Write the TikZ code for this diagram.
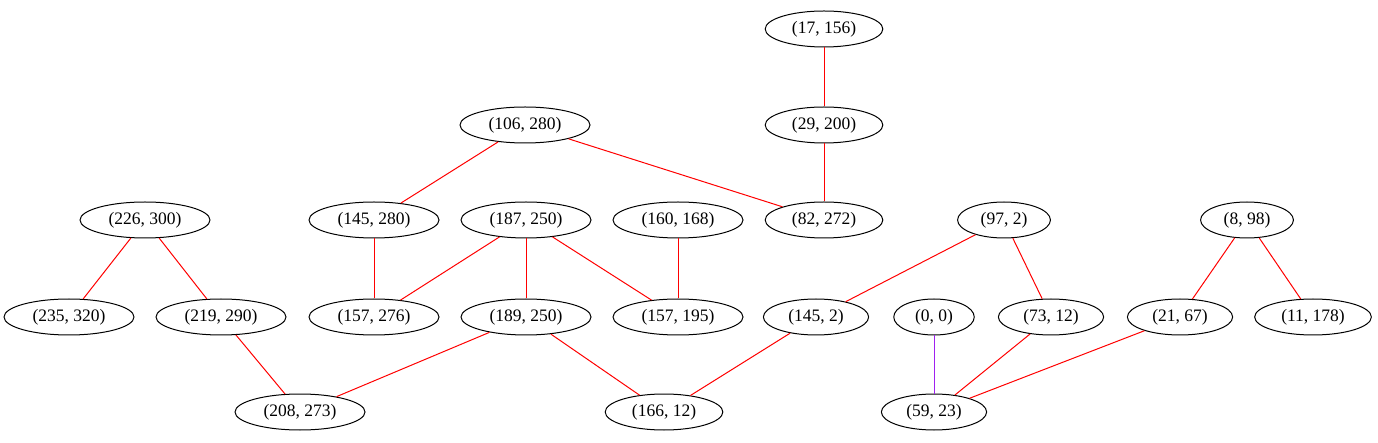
\documentclass[tikz,border=0pt]{standalone}
\usepackage{fontspec}
\setmainfont{Liberation Serif}
\usetikzlibrary{shapes.geometric}
\definecolor{gvpurple}{RGB}{160,32,240}
\begin{document}
\begin{tikzpicture}[x=1pt,y=-1pt,
  nd/.style={draw=black,ellipse,line width=1pt,inner xsep=9.5pt,inner ysep=0pt,minimum height=36pt,font=\fontsize{17.5}{20}\selectfont},
  ed/.style={draw=red,line width=1pt},
  ep/.style={draw=gvpurple,line width=1pt}]
\useasboundingbox (0,0) rectangle (1378,443);
\node[nd] (n17) at (824,29) {(17, 156)};
\node[nd] (n106) at (525,125) {(106, 280)};
\node[nd] (n29) at (824,125) {(29, 200)};
\node[nd] (n226) at (145,220) {(226, 300)};
\node[nd] (n145a) at (374,220) {(145, 280)};
\node[nd] (n187) at (526,220) {(187, 250)};
\node[nd] (n160) at (678,220) {(160, 168)};
\node[nd] (n82) at (824,220) {(82, 272)};
\node[nd] (n97) at (1004,220) {(97, 2)};
\node[nd] (n8) at (1247,220) {(8, 98)};
\node[nd] (n235) at (69,317) {(235, 320)};
\node[nd] (n219) at (221,317) {(219, 290)};
\node[nd] (n157a) at (374,317) {(157, 276)};
\node[nd] (n189) at (526,317) {(189, 250)};
\node[nd] (n157b) at (678,317) {(157, 195)};
\node[nd] (n145b) at (816,317) {(145, 2)};
\node[nd] (n0) at (934,317) {(0, 0)};
\node[nd] (n73) at (1051,317) {(73, 12)};
\node[nd] (n21) at (1180,317) {(21, 67)};
\node[nd] (n11) at (1313,317) {(11, 178)};
\node[nd] (n208) at (300,412) {(208, 273)};
\node[nd] (n166) at (664,412) {(166, 12)};
\node[nd] (n59) at (934,412) {(59, 23)};
\draw[ed] (n17) -- (n29);
\draw[ed] (n29) -- (n82);
\draw[ed] (n106) -- (n145a);
\draw[ed] (n106) -- (n82);
\draw[ed] (n226) -- (n235);
\draw[ed] (n226) -- (n219);
\draw[ed] (n145a) -- (n157a);
\draw[ed] (n187) -- (n157a);
\draw[ed] (n187) -- (n189);
\draw[ed] (n187) -- (n157b);
\draw[ed] (n160) -- (n157b);
\draw[ed] (n97) -- (n145b);
\draw[ed] (n97) -- (n73);
\draw[ed] (n8) -- (n21);
\draw[ed] (n8) -- (n11);
\draw[ed] (n219) -- (n208);
\draw[ed] (n189) -- (n208);
\draw[ed] (n189) -- (n166);
\draw[ed] (n145b) -- (n166);
\draw[ep] (n0) -- (n59);
\draw[ed] (n73) -- (n59);
\draw[ed] (n21) -- (n59);
\end{tikzpicture}
\end{document}
